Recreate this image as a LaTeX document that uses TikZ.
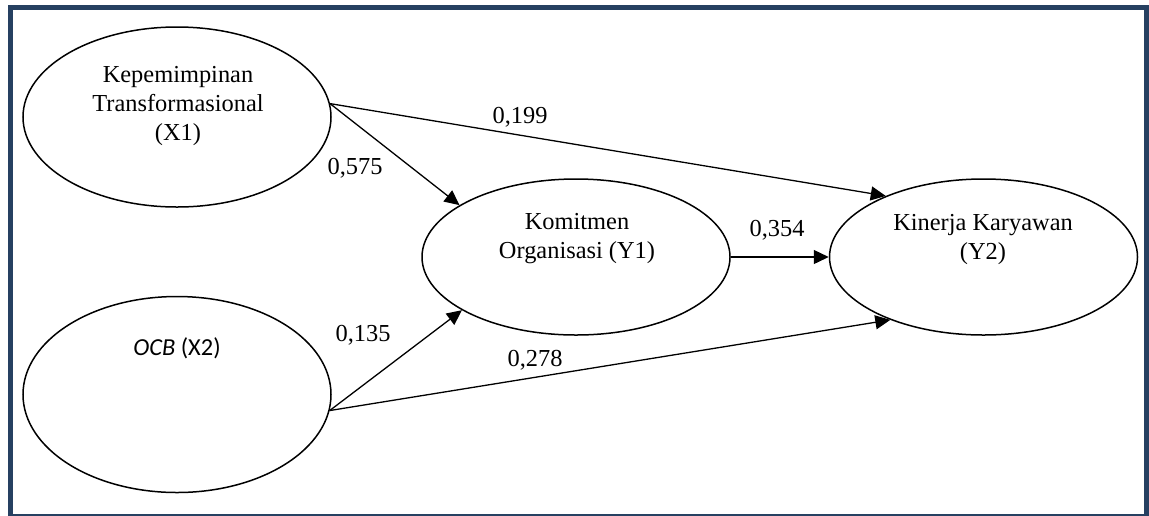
\documentclass[tikz,border=0pt]{standalone}
\usepackage{fontspec}
\setmainfont{Liberation Serif}
\newfontfamily\ocbfont{Carlito}
\usepackage{tikz}
\usetikzlibrary{arrows.meta,shapes,positioning}
\definecolor{frameblue}{RGB}{38,64,97}

\begin{document}
\begin{tikzpicture}[x=0.5pt,y=-0.5pt,->,>={Triangle[length=7.5pt,width=7pt]},
                    line width=0.65pt]
  \tikzstyle{latent}=[ellipse,draw,line width=0.75pt,minimum width=154pt,inner sep=0pt]
  \tikzstyle{lbl}=[align=center,inner sep=0pt,font=\fontsize{12.2}{14.5}\selectfont]
  \tikzstyle{coef}=[inner sep=0pt,font=\fontsize{12.2}{14.5}\selectfont]

  \useasboundingbox (0,0) rectangle (1149,515);
  \draw[-,draw=frameblue,line width=2.25pt]
    (10.5,516) -- (10.5,7.5) -- (1146.5,7.5) -- (1146.5,516) -- cycle;

  \node[latent,minimum height=90pt]     (X1) at (177,117) {};
  \node[latent,minimum height=98pt]     (X2) [below=44pt of X1] {};
  \node[latent,minimum height=78pt]     (Y1) at (576,257) {};
  \node[latent,minimum height=78pt]     (Y2) [right=49pt of Y1] {};

  \node[lbl] (X1t) at (178,106) {Kepemimpinan\\Transformasional\\(X1)};
  \node[lbl,font=\ocbfont\fontsize{12.2}{14.5}\selectfont] (X2t) at (177,348) {\textit{OCB} (X2)};
  \node[lbl] (Y1t) at (577,239) {Komitmen\\Organisasi (Y1)};
  \node[lbl] (Y2t) at (983,240) {Kinerja Karyawan\\(Y2)};

  \node[coef] (c575) at (355,168) {0,575};
  \node[coef] (c199) at (520,117) {0,199};
  \node[coef] (c135) at (363,335) {0,135};
  \node[coef] (c278) at (535,360) {0,278};
  \node[coef] (c354) at (777,230) {0,354};

  \path (X1.5)   edge (Y1.156)
                 edge (Y2.148)
        (X2.354) edge (Y1.205)
                 edge (Y2.214)
        (Y1.east) edge (Y2.west);
\end{tikzpicture}
\end{document}
